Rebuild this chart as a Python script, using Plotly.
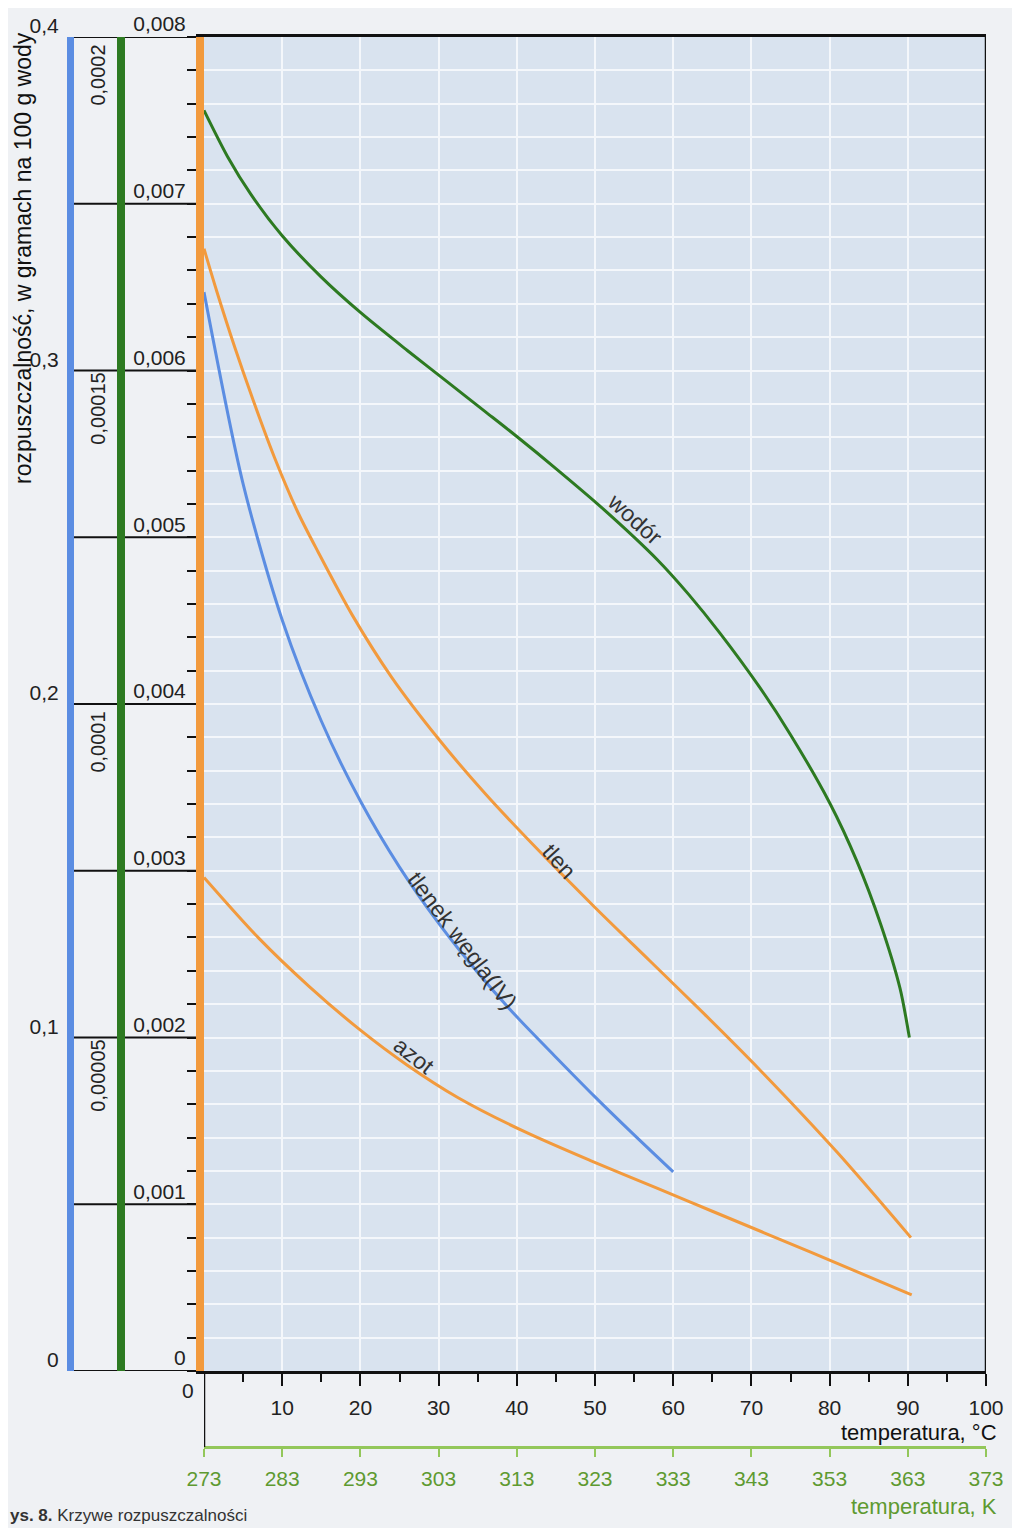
import plotly.graph_objects as go

# ---------------- data ----------------
h2_temps = [0, 3, 6, 10, 15, 20, 26, 31, 36, 40, 45, 51, 58, 62, 66, 71, 75, 80, 83.5, 86.5, 89, 90.2]
hydrogen = [0.0001890, 0.0001821, 0.0001764, 0.0001702, 0.0001640, 0.0001587, 0.0001530, 0.0001484,
            0.0001438, 0.0001401, 0.0001353, 0.0001293, 0.0001216, 0.0001164, 0.0001106, 0.0001026,
            0.0000954, 0.0000852, 0.0000764, 0.0000671, 0.0000574, 0.0000500]
o2_temps = [0, 1.6, 4, 6.3, 9, 12, 14.5, 19, 24, 30, 36, 42, 50, 57, 64, 71, 81, 90.4]
oxygen = [0.00673, 0.00648, 0.00613, 0.00582, 0.00548, 0.00515, 0.00492, 0.00453, 0.00416, 0.00379,
          0.00346, 0.00316, 0.00278, 0.00246, 0.00214, 0.00181, 0.00131, 0.00080]
n2_temps = [0, 7, 13.5, 20, 26, 32.5, 41, 49.5, 58, 65, 77.5, 90.5]
nitrogen = [0.002960, 0.002596, 0.002304, 0.002044, 0.001834, 0.001639, 0.001435, 0.001260,
            0.001095, 0.000958, 0.000714, 0.000457]
co2_temps = [0, 5, 10, 15, 20, 25, 30, 35, 40, 45, 50, 55, 60]
co2 = [0.3235, 0.2660, 0.2252, 0.1949, 0.1709, 0.1511, 0.1343, 0.1195, 0.1062, 0.0941, 0.0822,
       0.0708, 0.0597]

orange_ticks = [0, 0.001, 0.002, 0.003, 0.004, 0.005, 0.006, 0.007, 0.008]
orange_labels = ["0", "0,001", "0,002", "0,003", "0,004", "0,005", "0,006", "0,007", "0,008"]
green_ticks = [0.00005, 0.0001, 0.00015, 0.0002]
green_labels = ["0,00005", "0,0001", "0,00015", "0,0002"]
blue_ticks = [0, 0.1, 0.2, 0.3, 0.4]
blue_labels = ["0", "0,1", "0,2", "0,3", "0,4"]
c_ticks = [10, 20, 30, 40, 50, 60, 70, 80, 90, 100]
c_minor = [5, 15, 25, 35, 45, 55, 65, 75, 85, 95]
k_ticks = [273, 283, 293, 303, 313, 323, 333, 343, 353, 363, 373]

# curve labels: (text, temperature, position on the 0-0.008 scale, angle)
curve_labels = [
    ("wodór", 55.1, 0.00511, 42),
    ("tlen", 45.4, 0.00306, 48),
    ("tlenek węgla(IV)", 33.1, 0.00258, 53),
    ("azot", 26.9, 0.00189, 38),
]

# ---------------- geometry (page pixel positions) ----------------
OFF = 8                      # page body margin
W, H = 1004, 1520
MT, MB = 37 - OFF, 60
PAPER_BOTTOM = H + OFF - MB
PH = H - MT - MB

def py(y):
    return (PAPER_BOTTOM - y) / PH

def px(x):
    return (x - OFF) / W

PLOT_L, PLOT_R, PLOT_B = 204, 986, 1371
X_BLUE, X_GREEN = 70, 121
Y_K = 1447
ydom = [py(PLOT_B), 1]

C_ORANGE = "#f29a3d"
C_GREEN = "#2d7a21"
C_BLUE = "#5b8de2"
C_KLINE = "#93c75a"
C_KTEXT = "#5e9a30"
GRID = "#f4f7fb"
FONT = "Liberation Sans, Arial, sans-serif"

fig = go.Figure()
line_common = dict(width=3, shape="spline", smoothing=0.8)
fig.add_trace(go.Scatter(x=h2_temps, y=hydrogen, mode="lines", yaxis="y2",
                         line=dict(color=C_GREEN, **line_common), hoverinfo="skip"))
fig.add_trace(go.Scatter(x=o2_temps, y=oxygen, mode="lines", yaxis="y",
                         line=dict(color=C_ORANGE, **line_common), hoverinfo="skip"))
fig.add_trace(go.Scatter(x=n2_temps, y=nitrogen, mode="lines", yaxis="y",
                         line=dict(color=C_ORANGE, **line_common), hoverinfo="skip"))
fig.add_trace(go.Scatter(x=co2_temps, y=co2, mode="lines", yaxis="y3",
                         line=dict(color=C_BLUE, **line_common), hoverinfo="skip"))
# invisible trace so the Kelvin axis is drawn
fig.add_trace(go.Scatter(x=[k_ticks[0], k_ticks[-1]], y=[0, 0], xaxis="x2", mode="markers",
                         marker=dict(opacity=0), hoverinfo="skip"))

shapes = []
for v in orange_ticks:
    shapes.append(dict(type="line", xref="paper", yref="y", x0=px(X_BLUE), x1=px(PLOT_L),
                       y0=v, y1=v, line=dict(color="#111", width=2), layer="below"))
shapes.append(dict(type="line", xref="x", yref="y domain", x0=100, x1=100, y0=0, y1=1,
                   line=dict(color="#111", width=2.5)))
shapes.append(dict(type="line", xref="x", yref="paper", x0=0, x1=0, y0=py(Y_K), y1=py(PLOT_B),
                   line=dict(color="#111", width=2.5)))

annotations = []
annotations.append(dict(text="rozpuszczalność, w gramach na 100 g wody", textangle=-90,
                        xref="paper", yref="paper", x=px(23), y=py(30), xanchor="center",
                        yanchor="top", showarrow=False, font=dict(size=23, color="#111")))
annotations.append(dict(text="0", xref="x", yref="paper", x=0, y=py(1390), xanchor="right",
                        yanchor="middle", xshift=-8, showarrow=False, font=dict(size=21, color="#222")))
annotations.append(dict(text="temperatura, °C", xref="paper", yref="paper", x=px(999),
                        y=py(1432), xanchor="right", yanchor="middle", showarrow=False,
                        font=dict(size=22, color="#111")))
annotations.append(dict(text="temperatura, K", xref="paper", yref="paper", x=px(999),
                        y=py(1506), xanchor="right", yanchor="middle", showarrow=False,
                        font=dict(size=22, color=C_KTEXT)))
annotations.append(dict(text="<b>ys. 8.</b> Krzywe rozpuszczalności", xref="paper", yref="paper",
                        x=px(OFF), y=py(1516), xanchor="left", yanchor="middle", showarrow=False,
                        font=dict(size=17, color="#333")))
for text, t, v, ang in curve_labels:
    annotations.append(dict(text=text, xref="x", yref="y", x=t, y=v, textangle=ang,
                            showarrow=False, font=dict(size=23, color="#333")))

fig.update_layout(
    width=W, height=H,
    autosize=False,
    margin=dict(l=0, r=0, t=MT, b=MB, autoexpand=False),
    paper_bgcolor="#eff1f4",
    plot_bgcolor="#d9e3ef",
    showlegend=False,
    hovermode=False,
    font=dict(family=FONT, size=21, color="#222"),
    shapes=shapes,
    annotations=annotations,
    xaxis=dict(domain=[px(PLOT_L), px(PLOT_R)], range=[0, 100], anchor="y", automargin=False,
               tickmode="array", tickvals=c_ticks, ticktext=[str(t) for t in c_ticks],
               ticks="outside", ticklen=12, tickwidth=1.5, tickcolor="#111",
               minor=dict(tickmode="array", tickvals=c_minor, ticks="outside", ticklen=8,
                          tickwidth=1.5, tickcolor="#111", showgrid=False),
               showline=True, linecolor="#111", linewidth=2.5, mirror=True,
               showgrid=True, gridcolor=GRID, gridwidth=1.5, zeroline=False,
               ticklabeloverflow="allow",
               tickfont=dict(size=21, color="#222"), ticklabelstandoff=4),
    xaxis2=dict(domain=[px(PLOT_L), px(PLOT_R)], overlaying="x", anchor="free", automargin=False,
                position=py(Y_K), side="bottom", range=[273, 373],
                tickmode="array", tickvals=k_ticks, ticktext=[str(t) for t in k_ticks],
                ticks="outside", ticklen=8, tickwidth=1.5, tickcolor=C_KLINE,
                showline=True, linecolor=C_KLINE, linewidth=2.5, showgrid=False, zeroline=False,
                ticklabeloverflow="allow",
                tickfont=dict(size=21, color=C_KTEXT), ticklabelstandoff=4),
    yaxis=dict(domain=ydom, range=[0, 0.008], anchor="x", side="left", automargin=False,
               tickmode="array", tickvals=orange_ticks, ticktext=orange_labels,
               ticks="", ticklabelshift=-13, ticklabelstandoff=6,
               showline=True, linecolor=C_ORANGE, linewidth=8,
               showgrid=True, gridcolor=GRID, gridwidth=1.5, zeroline=False,
               minor=dict(dtick=0.0002, tick0=0, ticks="outside", ticklen=9, tickwidth=1.5,
                          tickcolor="#111", showgrid=True, gridcolor=GRID, gridwidth=1.5),
               tickfont=dict(size=21, color="#222")),
    yaxis2=dict(domain=ydom, range=[0, 0.0002], overlaying="y", anchor="free", automargin=False,
                position=px(X_GREEN), side="left",
                tickmode="array", tickvals=green_ticks, ticktext=green_labels,
                tickangle=-90, ticks="", ticklabelshift=41, ticklabelstandoff=4,
                showline=True, linecolor=C_GREEN, linewidth=8, showgrid=False, zeroline=False,
                tickfont=dict(size=20, color="#222")),
    yaxis3=dict(domain=ydom, range=[0, 0.4], overlaying="y", anchor="free", automargin=False,
                position=px(X_BLUE), side="left",
                tickmode="array", tickvals=blue_ticks, ticktext=blue_labels,
                ticks="", ticklabelshift=-11, ticklabelstandoff=4,
                showline=True, linecolor=C_BLUE, linewidth=7, showgrid=False, zeroline=False,
                tickfont=dict(size=21, color="#222")),
)

fig.write_html("out.html")
